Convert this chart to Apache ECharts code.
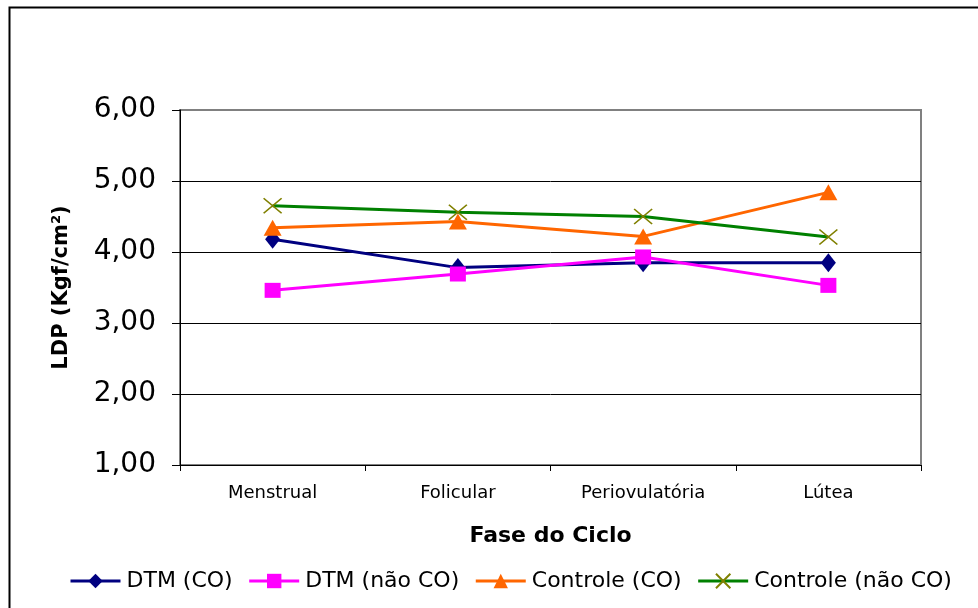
<!DOCTYPE html>
<html>
<head>
<meta charset="utf-8">
<script src="https://cdn.jsdelivr.net/npm/echarts@6/dist/echarts.min.js"></script>
<style>html,body{margin:0;padding:0;background:#fff}#c{width:978px;height:608px}</style>
</head>
<body>
<div id="c"></div>
<script>
const categories = ['Menstrual', 'Folicular', 'Periovulatória', 'Lútea'];
const dtmCO = [4.18, 3.78, 3.85, 3.85];
const dtmNaoCO = [3.46, 3.69, 3.93, 3.53];
const controleCO = [4.34, 4.43, 4.22, 4.84];
const controleNaoCO = [4.65, 4.56, 4.50, 4.21];
const seriesNames = ['DTM (CO)', 'DTM (não CO)', 'Controle (CO)', 'Controle (não CO)'];

const chart = echarts.init(document.getElementById('c'));
const font = 'DejaVu Sans, Liberation Sans, Arial, sans-serif';
chart.setOption({
  animation: false,
  textStyle: { fontFamily: font },
  graphic: [{
    type: 'rect', left: 7, top: 5, z: 100,
    shape: { x: 0, y: 0, width: 1000, height: 700 },
    style: { fill: 'none', stroke: '#000', lineWidth: 2 }
  }],
  grid: { left: 180, right: 57, top: 110, bottom: 143, show: true, borderColor: '#808080', borderWidth: 2, backgroundColor: 'transparent' },
  legend: {
    top: 570, left: 69, padding: 0, itemWidth: 50, itemHeight: 18, itemGap: 15,
    lineStyle: { width: 3 },
    textStyle: { fontSize: 22, color: '#000', fontFamily: font, padding: [0, 0, 0, 1] },
    data: seriesNames
  },
  xAxis: {
    type: 'category', data: categories, boundaryGap: true,
    axisLine: { lineStyle: { color: '#000', width: 1 } },
    axisTick: { show: true, length: 6, lineStyle: { color: '#000' } },
    axisLabel: { fontSize: 18, color: '#000', margin: 19, fontFamily: font },
    name: 'Fase do Ciclo', nameLocation: 'middle', nameGap: 60,
    nameTextStyle: { fontSize: 22, fontWeight: 'bold', color: '#000', fontFamily: font }
  },
  yAxis: {
    type: 'value', min: 1, max: 6, interval: 1,
    axisLine: { show: true, lineStyle: { color: '#000', width: 1 } },
    axisTick: { show: true, length: 8, lineStyle: { color: '#000' } },
    axisLabel: { fontSize: 28, color: '#000', margin: 24, fontFamily: font, formatter: v => v.toFixed(2).replace('.', ',') },
    splitLine: { show: true, showMaxLine: false, lineStyle: { color: '#000', width: 1 } },
    name: 'LDP (Kgf/cm²)', nameLocation: 'middle', nameGap: 108,
    nameTextStyle: { fontSize: 21, fontWeight: 'bold', color: '#000', fontFamily: font }
  },
  series: [
    { name: seriesNames[0], type: 'line', data: dtmCO, symbol: 'diamond', symbolSize: [15, 19],
      lineStyle: { color: '#000080', width: 3 }, itemStyle: { color: '#000080' } },
    { name: seriesNames[1], type: 'line', data: dtmNaoCO, symbol: 'rect', symbolSize: [16, 15],
      lineStyle: { color: '#FF00FF', width: 3 }, itemStyle: { color: '#FF00FF' } },
    { name: seriesNames[2], type: 'line', data: controleCO, symbol: 'triangle', symbolSize: [18, 16],
      lineStyle: { color: '#FF6600', width: 3 }, itemStyle: { color: '#FF6600' } },
    { name: seriesNames[3], type: 'line', data: controleNaoCO, symbol: 'path://M0,0L10,10M10,0L0,10', symbolSize: [18, 15],
      lineStyle: { color: '#008000', width: 3 }, itemStyle: { color: '#808000', borderColor: '#808000', borderWidth: 1.5 } }
  ]
});
</script>
</body>
</html>
